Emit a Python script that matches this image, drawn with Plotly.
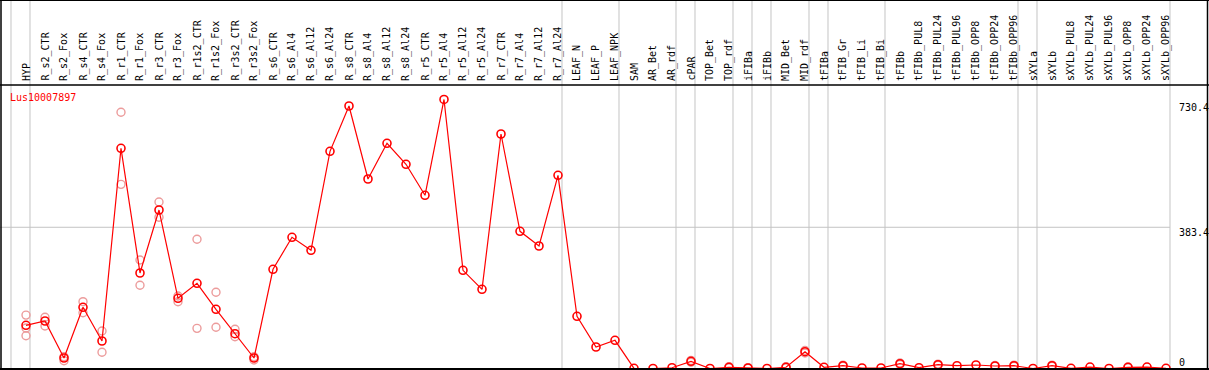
import plotly.graph_objects as go

categories = ["HYP", "R_s2_CTR", "R_s2_Fox", "R_s4_CTR", "R_s4_Fox", "R_r1_CTR", "R_r1_Fox",
              "R_r3_CTR", "R_r3_Fox", "R_r1s2_CTR", "R_r1s2_Fox", "R_r3s2_CTR", "R_r3s2_Fox",
              "R_s6_CTR", "R_s6_Al4", "R_s6_Al12", "R_s6_Al24", "R_s8_CTR", "R_s8_Al4", "R_s8_Al12",
              "R_s8_Al24", "R_r5_CTR", "R_r5_Al4", "R_r5_Al12", "R_r5_Al24", "R_r7_CTR", "R_r7_Al4",
              "R_r7_Al12", "R_r7_Al24", "LEAF_N", "LEAF_P", "LEAF_NPK", "SAM", "AR_Bet", "AR_rdf",
              "cPAR", "TOP_Bet", "TOP_rdf", "iFIBa", "iFIBb", "MID_Bet", "MID_rdf", "tFIBa",
              "tFIB_Gr", "tFIB_Li", "tFIB_Bi", "tFIBb", "tFIBb_PUL8", "tFIBb_PUL24", "tFIBb_PUL96",
              "tFIBb_OPP8", "tFIBb_OPP24", "tFIBb_OPP96", "sXYLa", "sXYLb", "sXYLb_PUL8",
              "sXYLb_PUL24", "sXYLb_PUL96", "sXYLb_OPP8", "sXYLb_OPP24", "sXYLb_OPP96"]

mean_values = [117.3, 129, 28.5, 166.2, 74.7, 597.8, 259.3, 430.3, 190.6, 231.3, 160.7, 94.5, 28.5,
               269.3, 356.2, 320.9, 589.7, 712.7, 514.5, 611.4, 554.4, 470.2, 730.4, 266.6, 215,
               636.7, 372.5, 332.6, 524.5, 141.7, 58.4, 76.6, 0.5, 0, 2, 19.5, 0, 3.3, 1.4, 0,
               3.3, 45.6, 3.3, 7.6, 1.4, 1.4, 13, 2.2, 10.3, 7.6, 9.5, 6.8, 7.6, 0, 7.6, 0.5,
               4, 0, 3.3, 4, 0.5]

N = None
rep_a = [145, 139, 21.2, 181.4, 101.8, 695.6, 294.6, 452, 196.8, 350.8, 206.9, 106.4, 23,
         N, N, N, N, N, N, N, N, N, N, N, N, N, N, N, N, N, N, N, N, N, N,
         22, N, 5, 2.5, N, 5, 49, N, 9, N, N, 15, N, 12, N, N, 8, 9, N, 9, N, N, N, 4.5, N, N]
rep_b = [110, 115.4, 32, 151.5, 44, 500, 225.9, 410.5, 181.4, 109, 111.9, 86.3, 32,
         N, N, N, N, N, N, N, N, N, N, N, N, N, N, N, N, N, N, N, N, N, N,
         17, N, 2, 0.5, N, 2, 42, N, 6, N, N, 11, N, 9, N, N, 6, 6, N, 6, N, N, N, 2, N, N]
rep_c = [89] + [N] * 60

gene_id = "Lus10007897"
y_ticks = [0, 383.4, 730.4]
y_tick_shift = [6, -5, -8]
group_ends = [-1, 0, 28, 31, 34, 35, 37, 38, 39, 41, 42, 45, 52, 53, 60]

W, H = 1209, 370
MT, MB = 85, 1
x_idx = list(range(len(categories)))
x_lo = -26 / 19
x_hi = x_lo + W / 19
y_lo, y_hi = -1.36, 769.7


def xp(v):
    return (v - x_lo) / (x_hi - x_lo)


fig = go.Figure()
rep_style = dict(symbol="circle-open", size=8, color="#EC9C9C", line=dict(width=1.4, color="#EC9C9C"))
for reps in (rep_a, rep_b, rep_c):
    fig.add_trace(go.Scatter(x=x_idx, y=reps, mode="markers", marker=rep_style,
                             showlegend=False, hoverinfo="skip"))
fig.add_trace(go.Scatter(x=x_idx, y=mean_values, mode="lines+markers",
                         line=dict(color="#FF0000", width=1.2),
                         marker=dict(symbol="circle-open", size=8, color="#FF0000",
                                     line=dict(width=1.6, color="#FF0000")),
                         showlegend=False))

shapes = []
top_paper = 1 + MT / (H - MT - MB)
for g in group_ends:
    xv = xp(g + 0.21)
    shapes.append(dict(type="line", xref="paper", yref="paper", x0=xv, x1=xv, y0=0, y1=top_paper,
                       line=dict(color="#C4C4C4", width=1), layer="below"))
shapes.append(dict(type="line", xref="paper", yref="y", x0=0, x1=xp(60.21), y0=y_ticks[1], y1=y_ticks[1],
                   line=dict(color="#C4C4C4", width=1), layer="below"))
# frame
shapes.append(dict(type="line", xref="paper", yref="paper", x0=0, x1=1, y0=1, y1=1,
                   line=dict(color="black", width=1.5)))
shapes.append(dict(type="line", xref="paper", yref="paper", x0=0, x1=1, y0=top_paper, y1=top_paper,
                   line=dict(color="black", width=2)))
shapes.append(dict(type="line", xref="paper", yref="paper", x0=0, x1=1, y0=0, y1=0,
                   line=dict(color="black", width=2)))
shapes.append(dict(type="line", xref="paper", yref="paper", x0=1 / W, x1=1 / W, y0=0, y1=top_paper,
                   line=dict(color="black", width=1.5)))
shapes.append(dict(type="line", xref="paper", yref="paper", x0=1207.5 / W, x1=1207.5 / W, y0=0, y1=top_paper,
                   line=dict(color="black", width=1.5)))

font = "DejaVu Sans Mono"
annotations = []
for i, c in enumerate(categories):
    annotations.append(dict(x=i, xref="x", y=1, yref="paper", yshift=2, text=c, textangle=-90,
                            showarrow=False, xanchor="center", yanchor="bottom",
                            font=dict(family=font, size=10, color="black")))
for v, s in zip(y_ticks, y_tick_shift):
    annotations.append(dict(x=1177 / W, xref="paper", y=v, yref="y", yshift=s,
                            text=f"{v:g}", showarrow=False, xanchor="left", yanchor="middle",
                            font=dict(family=font, size=10, color="black")))
annotations.append(dict(x=8 / W, xref="paper", y=1, yref="paper", yshift=-12, text=gene_id,
                        showarrow=False, xanchor="left", yanchor="middle",
                        font=dict(family=font, size=10, color="#FF0000")))

fig.update_layout(
    width=W, height=H, margin=dict(l=0, r=0, t=MT, b=MB),
    paper_bgcolor="white", plot_bgcolor="white",
    xaxis=dict(range=[x_lo, x_hi], visible=False, showgrid=False, zeroline=False),
    yaxis=dict(range=[y_lo, y_hi], visible=False, showgrid=False, zeroline=False),
    shapes=shapes, annotations=annotations, showlegend=False,
)

fig.write_html("out.html", config={"displayModeBar": False},
               post_script="document.body.style.margin='0';document.body.style.overflow='hidden';")
